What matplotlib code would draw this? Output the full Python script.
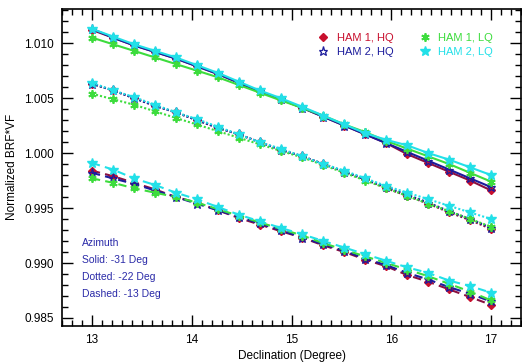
import numpy as np
import matplotlib
matplotlib.use('Agg')
import matplotlib.pyplot as plt
from matplotlib.lines import Line2D
from matplotlib.ticker import MultipleLocator

plt.rcParams['font.family'] = ['Liberation Sans', 'DejaVu Sans']

declination = [13.00, 13.21, 13.42, 13.63, 13.84, 14.05, 14.26, 14.47, 14.68, 14.89,
               15.11, 15.32, 15.53, 15.74, 15.95, 16.16, 16.37, 16.58, 16.79, 17.00]

# azimuth -31 deg (solid)
ham1_hq_solid = [1.0112, 1.0105, 1.0098, 1.0092, 1.0086, 1.0079, 1.0072, 1.0064, 1.0056, 1.0049,
                 1.0041, 1.0033, 1.0025, 1.0017, 1.0009, 0.9999, 0.9991, 0.9983, 0.9975, 0.9966]
ham2_hq_solid = [1.0113, 1.0105, 1.0098, 1.0092, 1.0086, 1.0079, 1.0072, 1.0064, 1.0056, 1.0049,
                 1.0041, 1.0033, 1.0025, 1.0017, 1.0009, 1.0001, 0.9993, 0.9985, 0.9977, 0.9969]
ham1_lq_solid = [1.0105, 1.0099, 1.0093, 1.0087, 1.0081, 1.0075, 1.0069, 1.0062, 1.0055, 1.0048,
                 1.0041, 1.0034, 1.0026, 1.0019, 1.0011, 1.0004, 0.9997, 0.9990, 0.9982, 0.9974]
ham2_lq_solid = [1.0113, 1.0106, 1.0099, 1.0093, 1.0087, 1.0080, 1.0073, 1.0065, 1.0057, 1.0050,
                 1.0042, 1.0034, 1.0026, 1.0018, 1.0012, 1.0007, 1.0000, 0.9994, 0.9987, 0.9980]

# azimuth -22 deg (dotted)
ham1_hq_dot = [1.0063, 1.0057, 1.0050, 1.0043, 1.0037, 1.0030, 1.0023, 1.0017, 1.0010, 1.0003,
               0.9997, 0.9990, 0.9983, 0.9976, 0.9968, 0.9961, 0.9954, 0.9946, 0.9939, 0.9931]
ham2_hq_dot = [1.0063, 1.0057, 1.0050, 1.0043, 1.0037, 1.0030, 1.0023, 1.0017, 1.0010, 1.0003,
               0.9997, 0.9990, 0.9983, 0.9976, 0.9969, 0.9962, 0.9955, 0.9947, 0.9940, 0.9932]
ham1_lq_dot = [1.0054, 1.0049, 1.0044, 1.0038, 1.0032, 1.0026, 1.0020, 1.0014, 1.0008, 1.0002,
               0.9996, 0.9989, 0.9982, 0.9975, 0.9968, 0.9961, 0.9954, 0.9947, 0.9940, 0.9933]
ham2_lq_dot = [1.0064, 1.0057, 1.0051, 1.0044, 1.0037, 1.0031, 1.0024, 1.0017, 1.0010, 1.0004,
               0.9997, 0.9990, 0.9984, 0.9977, 0.9970, 0.9964, 0.9958, 0.9952, 0.9946, 0.9940]

# azimuth -13 deg (dashed)
ham1_hq_dash = [0.9984, 0.9979, 0.9973, 0.9967, 0.9960, 0.9955, 0.9948, 0.9941, 0.9935, 0.9929,
                0.9923, 0.9916, 0.9910, 0.9903, 0.9897, 0.9889, 0.9883, 0.9876, 0.9869, 0.9862]
ham2_hq_dash = [0.9982, 0.9977, 0.9972, 0.9966, 0.9960, 0.9954, 0.9948, 0.9942, 0.9936, 0.9930,
                0.9923, 0.9917, 0.9911, 0.9904, 0.9898, 0.9891, 0.9885, 0.9878, 0.9872, 0.9865]
ham1_lq_dash = [0.9977, 0.9973, 0.9968, 0.9964, 0.9960, 0.9955, 0.9949, 0.9943, 0.9937, 0.9931,
                0.9925, 0.9918, 0.9912, 0.9906, 0.9900, 0.9894, 0.9888, 0.9881, 0.9874, 0.9866]
ham2_lq_dash = [0.9991, 0.9985, 0.9977, 0.9971, 0.9964, 0.9958, 0.9951, 0.9944, 0.9938, 0.9932,
                0.9926, 0.9920, 0.9914, 0.9908, 0.9902, 0.9896, 0.9891, 0.9884, 0.9879, 0.9873]

labels = ['HAM 1, HQ', 'HAM 2, HQ', 'HAM 1, LQ', 'HAM 2, LQ']
colors = ['#c8102e', '#1c1c9c', '#3ddc3d', '#22e0e8']
line_colors = ['#8a1040', '#1c1c9c', '#3ddc3d', '#22e0e8']

groups = [
    ('-', [ham1_hq_solid, ham2_hq_solid, ham1_lq_solid, ham2_lq_solid]),
    ((0, (1, 1)), [ham1_hq_dot, ham2_hq_dot, ham1_lq_dot, ham2_lq_dot]),
    ((0, (4, 2.5)), [ham1_hq_dash, ham2_hq_dash, ham1_lq_dash, ham2_lq_dash]),
]


def marker_style(i):
    if i == 0:
        return dict(marker='D', markersize=4, markerfacecolor=colors[i],
                    markeredgecolor=colors[i])
    if i == 1:
        return dict(marker='*', markersize=6.5, markerfacecolor='none',
                    markeredgecolor=colors[i], markeredgewidth=0.9)
    if i == 2:
        return dict(marker=(6, 2, 0), markersize=6, markeredgecolor=colors[i],
                    markeredgewidth=1.3)
    return dict(marker='*', markersize=7, markerfacecolor=colors[i],
                markeredgecolor=colors[i])


fig = plt.figure(figsize=(5.22, 3.62), dpi=100)
ax = fig.add_axes([62 / 522, 1 - 326 / 362, 459 / 522, 317.3 / 362])

for ls, series in groups:
    for i, vals in enumerate(series):
        ax.plot(declination, vals, linestyle=ls, color=line_colors[i],
                linewidth=1.5, **marker_style(i))

ax.set_xlim(12.7, 17.3)
ax.set_ylim(0.98427, 1.01313)
ax.xaxis.set_major_locator(MultipleLocator(1))
ax.xaxis.set_minor_locator(MultipleLocator(0.1))
ax.yaxis.set_major_locator(MultipleLocator(0.005))
ax.yaxis.set_minor_locator(MultipleLocator(0.001))
ax.yaxis.set_major_formatter(matplotlib.ticker.FormatStrFormatter('%.3f'))
ax.tick_params(which='both', direction='in', top=True, right=True, labelsize=8.5, width=1.0)
ax.tick_params(which='major', length=8, pad=6)
ax.tick_params(which='minor', length=4)
for s in ax.spines.values():
    s.set_linewidth(1.2)

ax.set_xlabel('Declination (Degree)', fontsize=8.5, labelpad=3)
ax.set_ylabel('Normalized BRF*VF', fontsize=8.5, labelpad=4)

handles = [Line2D([], [], linestyle='none', **marker_style(i)) for i in range(4)]
leg = ax.legend(handles, labels, ncol=2, loc='upper right', frameon=False,
                fontsize=8, bbox_to_anchor=(0.96, 0.955), handletextpad=0.6,
                columnspacing=2.2, labelspacing=0.35, handlelength=1.2)
for t, c in zip(leg.get_texts(), colors):
    t.set_color(c)

az_lines = ['Azimuth', 'Solid: -31 Deg', 'Dotted: -22 Deg', 'Dashed: -13 Deg']
for k, s in enumerate(az_lines):
    ax.text(0.044, 0.262 - k * 0.054, s, transform=ax.transAxes, color='#2a2aa8',
            fontsize=7.5, va='center', ha='left')

fig.savefig('out.png', dpi=100)
